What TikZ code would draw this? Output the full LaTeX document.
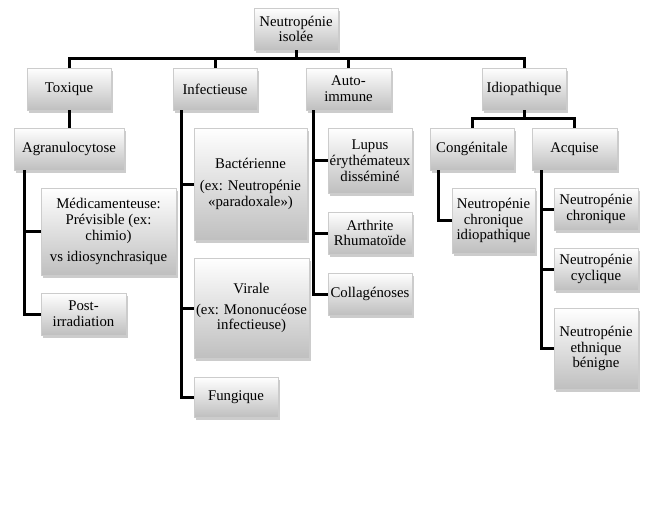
\documentclass[tikz,border=0pt]{standalone}
\usepackage{fontspec}
\setmainfont{Liberation Serif}
\usetikzlibrary{shadows}
\begin{document}
\begin{tikzpicture}[x=1pt,y=1pt,
  box/.style={draw=black!20, line width=0.4pt, top color=white, bottom color=black!25,
    drop shadow={shadow xshift=2pt, shadow yshift=-2.5pt, opacity=0.4},
    align=center, inner sep=0pt, font=\fontsize{14.8}{15.8}\selectfont},
  conn/.style={line width=3pt, black}]
\useasboundingbox (0,0) rectangle (658,-507);
\fill[white] (0,0) rectangle (658,-507);

% level 0
\node[box, minimum width=84, minimum height=42] (root) at (296,-29) {Neutropénie\\isolée};
% level 1
\node[box, minimum width=84, minimum height=42] (tox) at (69,-89) {Toxique};
\node[box, minimum width=84, minimum height=42] (inf) at (215,-89) {Infectieuse};
\node[box, minimum width=85, minimum height=42] (auto) at (348.5,-89) {Auto-\\immune};
\node[box, minimum width=84, minimum height=42] (idio) at (524,-89) {Idiopathique};
% toxique
\node[box, minimum width=110, minimum height=42] (agra) at (69,-149) {Agranulocytose};
\node[box, minimum width=135, minimum height=87] (med) at (108.5,-231.5) {Médicamenteuse:\\Prévisible (ex:\\chimio)\\[5pt]vs idiosynchrasique};
\node[box, minimum width=85, minimum height=42] (post) at (83.5,-314) {Post-\\irradiation};
% infectieuse
\node[box, minimum width=113, minimum height=112] (bact) at (250.5,-184) {Bactérienne\\[6pt](ex: Neutropénie\\«paradoxale»)};
\node[box, minimum width=115, minimum height=100] (vir) at (251.5,-308) {Virale\\[5pt](ex: Mononucéose\\infectieuse)};
\node[box, minimum width=84, minimum height=40] (fung) at (236,-397) {Fungique};
% auto-immune
\node[box, minimum width=84, minimum height=65] (lupus) at (370,-160.5) {Lupus\\érythémateux\\disséminé};
\node[box, minimum width=84, minimum height=42] (arth) at (370,-233) {Arthrite\\Rhumatoïde};
\node[box, minimum width=84, minimum height=42] (coll) at (370,-294) {Collagénoses};
% idiopathique
\node[box, minimum width=84, minimum height=42] (cong) at (472,-149) {Congénitale};
\node[box, minimum width=85, minimum height=42] (acq) at (574.5,-149) {Acquise};
\node[box, minimum width=83, minimum height=65] (nci) at (493.5,-220.5) {Neutropénie\\chronique\\idiopathique};
\node[box, minimum width=84, minimum height=42] (nchr) at (596,-209) {Neutropénie\\chronique};
\node[box, minimum width=84, minimum height=42] (ncyc) at (596,-269) {Neutropénie\\cyclique};
\node[box, minimum width=84, minimum height=81] (neth) at (596,-348.5) {Neutropénie\\ethnique\\bénigne};

% connectors
\coordinate (bar) at (296,-58);
\draw[conn] (root.south) -- (bar);
\draw[conn] (bar) -| (tox.north);
\draw[conn] (bar) -| (inf.north);
\draw[conn] (bar) -| (auto.north);
\draw[conn] (bar) -| (idio.north);

\draw[conn] (tox.south) -- (agra.north);
\coordinate (a1) at (24,-170);
\draw[conn] (a1) |- (med.west);
\draw[conn] (a1) |- (post.west);

\coordinate (i1) at (181,-110);
\draw[conn] (i1) |- (bact.west);
\draw[conn] (i1) |- (vir.west);
\draw[conn] (i1) |- (fung.west);

\coordinate (u1) at (313,-110);
\draw[conn] (u1) |- (lupus.west);
\draw[conn] (u1) |- (arth.west);
\draw[conn] (u1) |- (coll.west);

\coordinate (d1) at (524,-118);
\draw[conn] (idio.south) -- (d1);
\draw[conn] (d1) -| (cong.north);
\draw[conn] (d1) -| (acq.north);

\coordinate (c1) at (438,-170);
\draw[conn] (c1) |- (nci.west);

\coordinate (q1) at (541,-170);
\draw[conn] (q1) |- (nchr.west);
\draw[conn] (q1) |- (ncyc.west);
\draw[conn] (q1) |- (neth.west);
\end{tikzpicture}
\end{document}
